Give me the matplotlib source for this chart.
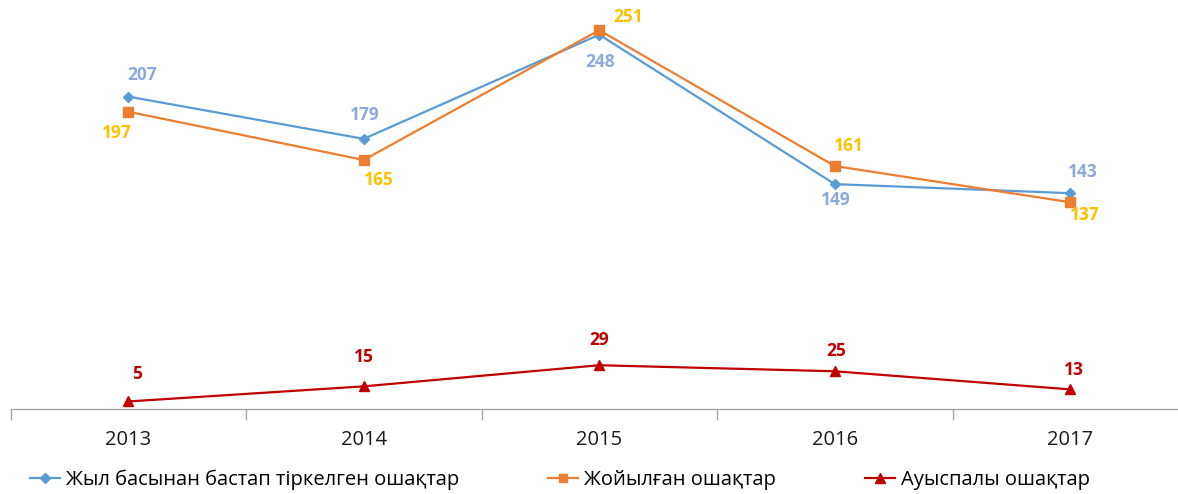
import matplotlib
matplotlib.use("Agg")
import matplotlib.pyplot as plt
from matplotlib.lines import Line2D

plt.rcParams['font.family'] = ['Open Sans', 'DejaVu Sans']

# data
years = ['2013', '2014', '2015', '2016', '2017']
registered = [207, 179, 248, 149, 143]   # Жыл басынан бастап тіркелген ошақтар
eliminated = [197, 165, 251, 161, 137]   # Жойылған ошақтар
transitional = [5, 15, 29, 25, 13]       # Ауыспалы ошақтар

names = ['Жыл басынан бастап тіркелген ошақтар', 'Жойылған ошақтар', 'Ауыспалы ошақтар']

# label offsets in pixels
off_reg = [(14, 22), (1, 24), (1, -27), (1, -16), (13, 21)]
off_eli = [(-11, -21), (15, -20), (29, 13), (14, 20), (15, -13)]
off_tra = [(9, 27), (0, 29), (0, 25), (1, 20), (4, 19)]

W, H = 1178, 494
fig = plt.figure(figsize=(W / 100, H / 100), dpi=100)
ax = fig.add_axes([10.5 / W, (H - 409) / H, 1177.5 / W, 409 / H])
ax.set_xlim(-0.5, 4.5)
ax.set_ylim(0, 271)

x = list(range(len(years)))
ax.plot(x, registered, color='#5B9BD5', lw=1.6, marker='D', ms=5.5, zorder=3)
ax.plot(x, eliminated, color='#ED7D31', lw=1.6, marker='s', ms=7, zorder=3)
ax.plot(x, transitional, color='#C00000', lw=1.6, marker='^', ms=7.5, zorder=3)

def labels(vals, offs, col):
    for i, v in enumerate(vals):
        ax.annotate(str(v), (i, v), xytext=offs[i], textcoords='offset pixels',
                    ha='center', va='center', color=col, fontsize=12.5, fontweight='bold')

labels(registered, off_reg, '#8EA9DB')
labels(eliminated, off_eli, '#FFC000')
labels(transitional, off_tra, '#C00000')

for s in ['top', 'right', 'left']:
    ax.spines[s].set_visible(False)
ax.spines['bottom'].set_color('#A6A6A6')
ax.spines['bottom'].set_linewidth(1.0)
ax.set_yticks([])
ax.set_xticks(x)
ax.set_xticklabels(years, fontsize=14.5, color='#1a1a1a')
ax.tick_params(axis='x', length=0, pad=15)
# category separator ticks
ax.set_xticks([-0.5, 0.5, 1.5, 2.5, 3.5, 4.5], minor=True)
ax.tick_params(axis='x', which='minor', length=8, color='#A6A6A6', width=1.0)

handles = [Line2D([], [], color='#5B9BD5', lw=1.6, marker='D', ms=5),
           Line2D([], [], color='#ED7D31', lw=1.6, marker='s', ms=6),
           Line2D([], [], color='#C00000', lw=1.6, marker='^', ms=7)]
fig.legend(handles, names, loc='center left', bbox_to_anchor=(30 / W, 14 / H),
           ncol=3, frameon=False, fontsize=14.5, handlelength=1.5, handletextpad=0.3,
           columnspacing=4.4, borderaxespad=0, borderpad=0)

plt.savefig('out.png', dpi=100)
